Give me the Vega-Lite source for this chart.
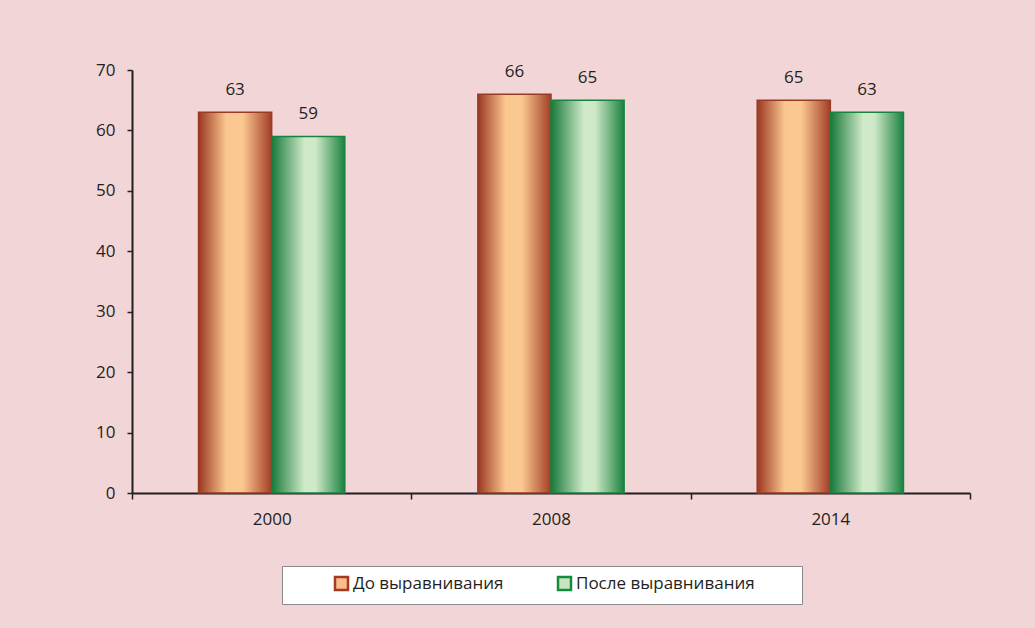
{
  "$schema": "https://vega.github.io/schema/vega-lite/v6.json",
  "autosize": {"type": "none"},
  "width": 838,
  "height": 423,
  "padding": {"left": 132, "top": 70, "right": 65, "bottom": 135},
  "background": "#F2D5D6",
  "config": {
    "view": {"stroke": null},
    "font": "Open Sans",
    "axis": {"labelFont": "Open Sans", "labelFontSize": 17, "labelColor": "#231F20", "domainColor": "#231F20", "tickColor": "#231F20", "domainWidth": 2, "tickWidth": 1.5, "grid": false, "title": null}
  },
  "data": {
    "values": [
      {"year": "2000", "series": "До выравнивания", "value": 63},
      {"year": "2000", "series": "После выравнивания", "value": 59},
      {"year": "2008", "series": "До выравнивания", "value": 66},
      {"year": "2008", "series": "После выравнивания", "value": 65},
      {"year": "2014", "series": "До выравнивания", "value": 65},
      {"year": "2014", "series": "После выравнивания", "value": 63}
    ]
  },
  "encoding": {
    "x": {"field": "year", "type": "nominal", "scale": {"paddingInner": 0, "paddingOuter": 0},
      "axis": {"labelAngle": 0, "tickBand": "extent", "tickSize": 6, "labelPadding": 12}},
    "xOffset": {"field": "series", "type": "nominal", "scale": {"domain": ["До выравнивания", "После выравнивания"], "paddingInner": 0, "paddingOuter": 0.91}},
    "y": {"field": "value", "type": "quantitative", "scale": {"domain": [0, 70], "nice": false},
      "axis": {"values": [0, 10, 20, 30, 40, 50, 60, 70], "tickSize": 5, "labelPadding": 12}}
  },
  "layer": [
    {
      "transform": [{"filter": "datum.series === 'До выравнивания'"}],
      "mark": {"type": "bar", "stroke": "#9A3A22", "strokeWidth": 1.5,
        "fill": {"gradient": "linear", "x1": 0, "x2": 1, "y1": 0, "y2": 0,
          "stops": [
            {"offset": 0, "color": "#9B3721"},
            {"offset": 0.38, "color": "#FBC790"},
            {"offset": 0.6, "color": "#FCC891"},
            {"offset": 1, "color": "#A23E26"}
          ]}}
    },
    {
      "transform": [{"filter": "datum.series === 'После выравнивания'"}],
      "mark": {"type": "bar", "stroke": "#17843D", "strokeWidth": 1.5,
        "fill": {"gradient": "linear", "x1": 0, "x2": 1, "y1": 0, "y2": 0,
          "stops": [
            {"offset": 0, "color": "#17793A"},
            {"offset": 0.45, "color": "#D0EAC9"},
            {"offset": 0.6, "color": "#CFE9C8"},
            {"offset": 1, "color": "#1A823F"}
          ]}}
    },
    {
      "mark": {"type": "bar", "opacity": 0},
      "encoding": {
        "fill": {"field": "series", "type": "nominal",
          "scale": {"domain": ["До выравнивания", "После выравнивания"], "range": ["#F8BE87", "#C7E6C0"]},
          "legend": {
            "orient": "none", "legendX": 150, "legendY": 496, "direction": "horizontal",
            "title": "MM", "titleOrient": "right", "titleFontSize": 16, "titlePadding": 7, "titleColor": "#FFFFFF",
            "symbolType": "square", "symbolSize": 169, "symbolOpacity": 1,
            "symbolStrokeWidth": 2.5, "labelFontSize": 17, "labelFont": "Open Sans", "labelColor": "#231F20", "labelLimit": 400,
            "labelOffset": 3, "columnPadding": 10, "padding": 9, "symbolOffset": 42,
            "fillColor": "#FFFFFF", "strokeColor": "#8A8A8A",
            "encode": {"symbols": {"update": {"fill": {"scale": "fill", "field": "value"}, "opacity": {"value": 1}, "fillOpacity": {"value": 1}}}}
          }},
        "stroke": {"field": "series", "type": "nominal",
          "scale": {"domain": ["До выравнивания", "После выравнивания"], "range": ["#A53A22", "#178A3C"]}}
      }
    },
    {
      "mark": {"type": "text", "baseline": "bottom", "dy": -13, "fontSize": 17, "font": "Open Sans", "color": "#231F20"},
      "encoding": {"text": {"field": "value", "type": "quantitative"}}
    }
  ]
}
